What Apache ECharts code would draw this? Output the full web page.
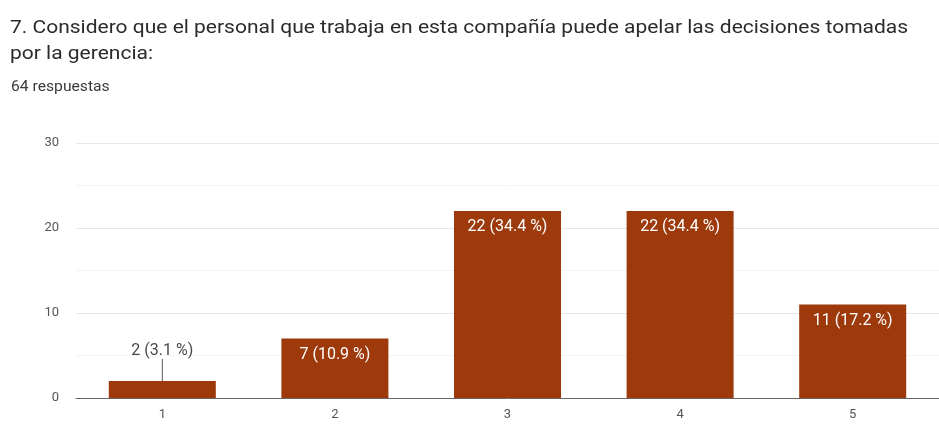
<!DOCTYPE html>
<html>
<head>
<meta charset="utf-8">
<script src="https://cdn.jsdelivr.net/npm/echarts@6/dist/echarts.min.js"></script>
<style>
  html, body { margin: 0; padding: 0; background: #fff; }
  #chart { width: 939px; height: 424px; }
</style>
</head>
<body>
<div id="chart"></div>
<script>
// Question, response count and answer tallies
const questionLines = [
  '7. Considero que el personal que trabaja en esta compañía puede apelar las decisiones tomadas',
  'por la gerencia:'
];
const responsesText = '64 respuestas';
const categories = ['1', '2', '3', '4', '5'];
const counts = [2, 7, 22, 22, 11];
const percents = ['3.1', '10.9', '34.4', '34.4', '17.2'];
const yTicks = { min: 0, max: 30, step: 10 };

const barColor = '#9d390b';
const titleFont = 'Roboto';

const chart = echarts.init(document.getElementById('chart'), null, { renderer: 'canvas' });

chart.setOption({
  animation: false,
  backgroundColor: '#ffffff',
  textStyle: { fontFamily: 'Roboto' },
  // Heading drawn as graphic text so it can be widened slightly
  graphic: [
    {
      type: 'text', left: 10, top: 19, scaleX: 1.105, originX: 0,
      style: { text: questionLines[0], font: `19px ${titleFont}`, fill: '#2b2b2b' }
    },
    {
      type: 'text', left: 10, top: 45, scaleX: 1.105, originX: 0,
      style: { text: questionLines[1], font: `19px ${titleFont}`, fill: '#2b2b2b' }
    },
    {
      type: 'text', left: 11, top: 80, scaleX: 1.12, originX: 0,
      style: { text: responsesText, font: `14px ${titleFont}`, fill: '#3a3a3a' }
    }
  ],
  grid: { left: 76, top: 143, width: 866, bottom: 26, containLabel: false },
  xAxis: {
    type: 'category',
    data: categories,
    axisLine: { lineStyle: { color: '#666', width: 1 } },
    axisTick: { show: false },
    axisLabel: { color: '#555', fontSize: 13, margin: 10 }
  },
  yAxis: {
    type: 'value',
    min: yTicks.min, max: yTicks.max, interval: yTicks.step,
    axisLine: { show: false },
    axisTick: { show: false },
    axisLabel: { color: '#555', fontSize: 13, margin: 17 },
    splitLine: { lineStyle: { color: '#e6e6e6' } },
    minorTick: { show: false, splitNumber: 2 },
    minorSplitLine: { show: true, lineStyle: { color: '#f4f4f4' } }
  },
  series: [{
    type: 'bar',
    barWidth: '62%',
    itemStyle: { color: barColor },
    data: counts.map((v, i) => {
      const item = { value: v };
      if (i === 0) {
        item.label = { position: 'top', distance: 4, color: '#4a4a4a' };
      }
      return item;
    }),
    label: {
      show: true,
      position: 'insideTop',
      distance: 8,
      color: '#ffffff',
      fontSize: 16,
      formatter: p => `${counts[p.dataIndex]} (${percents[p.dataIndex]} %)`
    },
    labelLine: { show: true, lineStyle: { color: '#555', width: 1 } },
    labelLayout: p => (p.dataIndex === 0 ? { dy: -18 } : {})
  }]
});
</script>
</body>
</html>
